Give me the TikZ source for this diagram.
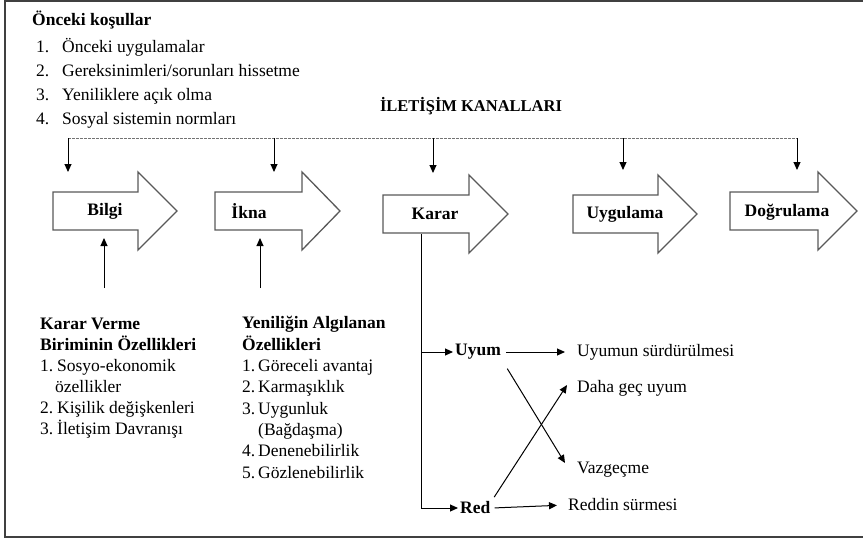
\documentclass[tikz,border=0pt]{standalone}
\usepackage{fontspec}
\setmainfont{Liberation Serif}
\usetikzlibrary{arrows.meta}

\newcommand{\bodysize}{\fontsize{17.5}{21}\selectfont}

\tikzset{
  stage/.style={draw=black!65, line width=1.3pt, fill=white},
  stagelbl/.style={font=\bodysize\bfseries, inner sep=1pt},
  arr/.style={-{Triangle[length=8pt,width=7pt]}, line width=1pt},
  channel/.style={draw=black!55, dash pattern=on 2.5pt off 1.5pt, line width=1pt},
  listtxt/.style={align=left, inner sep=0pt, anchor=base west},
  outcome/.style={anchor=west, inner sep=2pt},
}

% block arrow: left x, shaft top y, head base x, tip x
\newcommand{\stagearrow}[4]{%
  \draw[stage] (#1,#2) -- (#3,#2) -- (#3,#2-20) -- (#4,#2+19) -- (#3,#2+58)
    -- (#3,#2+38) -- (#1,#2+38) -- cycle;}

\begin{document}
\begin{tikzpicture}[x=1pt,y=-1pt,font=\bodysize]
\useasboundingbox (0,0) rectangle (863,541);
\draw[black!75,line width=2pt] (863,1) -- (5,1) -- (5,537) -- (863,537);

% antecedents (base = last line)
\node[listtxt,font=\fontsize{17.5}{24}\selectfont] (kosul) at (32,124)
  {\textbf{Önceki koşullar}\\[3pt]
   \hspace*{4pt}\makebox[26pt][l]{1.}Önceki uygulamalar\\
   \hspace*{4pt}\makebox[26pt][l]{2.}Gereksinimleri/sorunları hissetme\\
   \hspace*{4pt}\makebox[26pt][l]{3.}Yeniliklere açık olma\\
   \hspace*{4pt}\makebox[26pt][l]{4.}Sosyal sistemin normları};

% communication channels
\node[font=\fontsize{16.5}{20}\selectfont\bfseries] (kanal) at (471,106) {İLETİŞİM KANALLARI};
\coordinate (ch1) at (68,138);
\coordinate (ch5) at (797,138);
\draw[channel] (ch1) -- (ch5);
\foreach \i/\x/\y in {1/68/172, 2/274/172, 3/433/173, 4/623/170, 5/797/170} {
  \coordinate (top\i) at (\x,138);
  \coordinate (tip\i) at (\x,\y);
  \draw[arr] (top\i) -- (tip\i);
}

% stages
\stagearrow{53}{192}{138}{177}
\stagearrow{215}{192}{302}{340}
\stagearrow{383}{195}{469}{508}
\stagearrow{573}{195}{658}{697}
\stagearrow{730}{192}{818}{857}
\node[stagelbl] (bilgi) at (105,211) {Bilgi};
\node[stagelbl] (ikna) at (249,211) {İkna};
\node[stagelbl] (karar) at (435,214) {Karar};
\node[stagelbl] (uygulama) at (625,214) {Uygulama};
\node[stagelbl] (dogrulama) at (787,212) {Doğrulama};

% characteristics (base = last line)
\node[listtxt] (birim) at (40,434)
  {\textbf{Karar Verme}\\
   \textbf{Biriminin Özellikleri}\\
   \makebox[17pt][l]{1.}Sosyo-ekonomik\\
   \hspace*{15pt}özellikler\\
   \makebox[17pt][l]{2.}Kişilik değişkenleri\\
   \makebox[17pt][l]{3.}İletişim Davranışı};
\node[listtxt,font=\fontsize{17.5}{21.3}\selectfont] (yenilik) at (242,478)
  {\textbf{Yeniliğin Algılanan}\\
   \textbf{Özellikleri}\\
   \makebox[16pt][l]{1.}Göreceli avantaj\\
   \makebox[16pt][l]{2.}Karmaşıklık\\
   \makebox[16pt][l]{3.}Uygunluk\\
   \hspace*{16pt}(Bağdaşma)\\
   \makebox[16pt][l]{4.}Denenebilirlik\\
   \makebox[16pt][l]{5.}Gözlenebilirlik};
\coordinate (birimtop) at (104,288);
\coordinate (bilgiin) at (104,238);
\coordinate (yeniliktop) at (260,288);
\coordinate (iknain) at (260,238);
\draw[arr] (birimtop) -- (bilgiin);
\draw[arr] (yeniliktop) -- (iknain);

% decision outcomes
\node[outcome,font=\bodysize\bfseries] (uyum) at (453,352) {Uyum};
\node[outcome,font=\bodysize\bfseries] (red) at (458,508) {Red};
\node[outcome] (surdur) at (575,352) {Uyumun sürdürülmesi};
\node[outcome] (gec) at (575,388) {Daha geç uyum};
\node[outcome] (vazgec) at (575,470) {Vazgeçme};
\node[outcome] (reddin) at (566,505) {Reddin sürmesi};
\coordinate (kararfoot) at (421,234);
\draw[arr] (kararfoot) |- (uyum.west);
\draw[arr] (kararfoot) |- (red.west);
\draw[arr,shorten <=3pt,shorten >=10pt] (uyum.east) -- (surdur.west);
\draw[arr,shorten <=2pt,shorten >=9pt] (red.east) -- (reddin.west);
\draw[arr,shorten <=8pt] (uyum.south east) -- ([shift={(-10,-7)}]vazgec.west);
\draw[arr,shorten <=3pt] (red.north east) -- ([shift={(-8,-3)}]gec.west);
\end{tikzpicture}
\end{document}
